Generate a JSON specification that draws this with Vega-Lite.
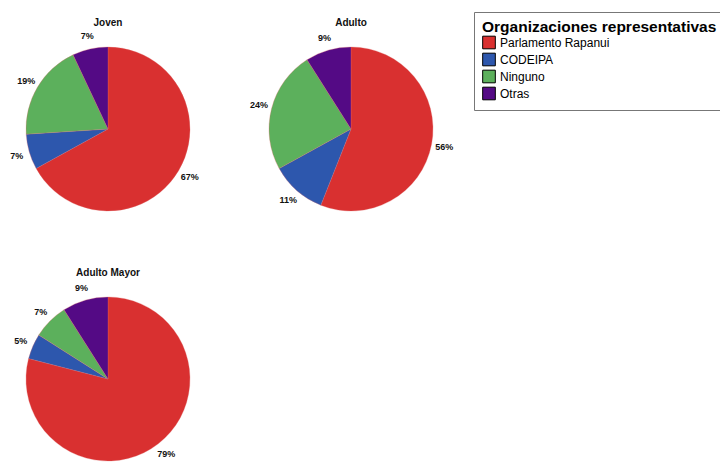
{
  "$schema": "https://vega.github.io/schema/vega-lite/v6.json",
  "padding": {"left": 0, "top": 11, "right": 0, "bottom": 0},
  "background": "white",
  "bounds": "flush",
  "data": {
    "values": [
      {"grupo": "Joven", "org": "Parlamento Rapanui", "orden": 1, "pct": 67, "lbl": "67%"},
      {"grupo": "Joven", "org": "CODEIPA", "orden": 2, "pct": 7, "lbl": "7%"},
      {"grupo": "Joven", "org": "Ninguno", "orden": 3, "pct": 19, "lbl": "19%"},
      {"grupo": "Joven", "org": "Otras", "orden": 4, "pct": 7, "lbl": "7%"},
      {"grupo": "Adulto", "org": "Parlamento Rapanui", "orden": 1, "pct": 56, "lbl": "56%"},
      {"grupo": "Adulto", "org": "CODEIPA", "orden": 2, "pct": 11, "lbl": "11%"},
      {"grupo": "Adulto", "org": "Ninguno", "orden": 3, "pct": 24, "lbl": "24%"},
      {"grupo": "Adulto", "org": "Otras", "orden": 4, "pct": 9, "lbl": "9%"},
      {"grupo": "Adulto Mayor", "org": "Parlamento Rapanui", "orden": 1, "pct": 79, "lbl": "79%"},
      {"grupo": "Adulto Mayor", "org": "CODEIPA", "orden": 2, "pct": 5, "lbl": "5%"},
      {"grupo": "Adulto Mayor", "org": "Ninguno", "orden": 3, "pct": 7, "lbl": "7%"},
      {"grupo": "Adulto Mayor", "org": "Otras", "orden": 4, "pct": 9, "lbl": "9%"}
    ]
  },
  "facet": {
    "field": "grupo",
    "type": "nominal",
    "sort": ["Joven", "Adulto", "Adulto Mayor"],
    "header": {
      "title": null,
      "labelFont": "Liberation Sans",
      "labelFontWeight": "bold",
      "labelFontSize": 10,
      "labelColor": "#111",
      "labelPadding": 1
    }
  },
  "columns": 2,
  "spacing": {"column": 27, "row": 50},
  "spec": {
    "width": 216,
    "height": 200,
    "encoding": {
      "theta": {"field": "pct", "type": "quantitative", "stack": true},
      "order": {"field": "orden", "type": "quantitative"}
    },
    "layer": [
      {
        "mark": {"type": "arc", "outerRadius": 82, "stroke": "#e06666", "strokeWidth": 0.3},
        "encoding": {
          "color": {
            "field": "org",
            "type": "nominal",
            "sort": ["Parlamento Rapanui", "CODEIPA", "Ninguno", "Otras"],
            "scale": {
              "domain": ["Parlamento Rapanui", "CODEIPA", "Ninguno", "Otras"],
              "range": ["#d93030", "#2d57ad", "#5cb05c", "#540a85"]
            },
            "legend": {
              "title": "Organizaciones representativas",
              "orient": "none",
              "legendX": 474,
              "legendY": -17,
              "titleFont": "Liberation Sans",
              "titleFontSize": 15.5,
              "titleFontWeight": "bold",
              "titleColor": "#000",
              "titleLimit": 400,
              "labelFont": "Liberation Sans",
              "labelFontSize": 12,
              "labelColor": "#000",
              "symbolType": "square",
              "symbolSize": 160,
              "symbolStrokeColor": "#000",
              "symbolStrokeWidth": 1,
              "rowPadding": -1,
              "padding": 8,
              "titlePadding": 0,
              "strokeColor": "#777",
              "fillColor": "white",
              "labelOffset": 4
            }
          }
        }
      },
      {
        "mark": {"type": "text", "radius": 95, "font": "Liberation Sans", "fontSize": 9, "fontWeight": "bold", "color": "#111"},
        "encoding": {
          "text": {"field": "lbl", "type": "nominal"}
        }
      }
    ]
  }
}
